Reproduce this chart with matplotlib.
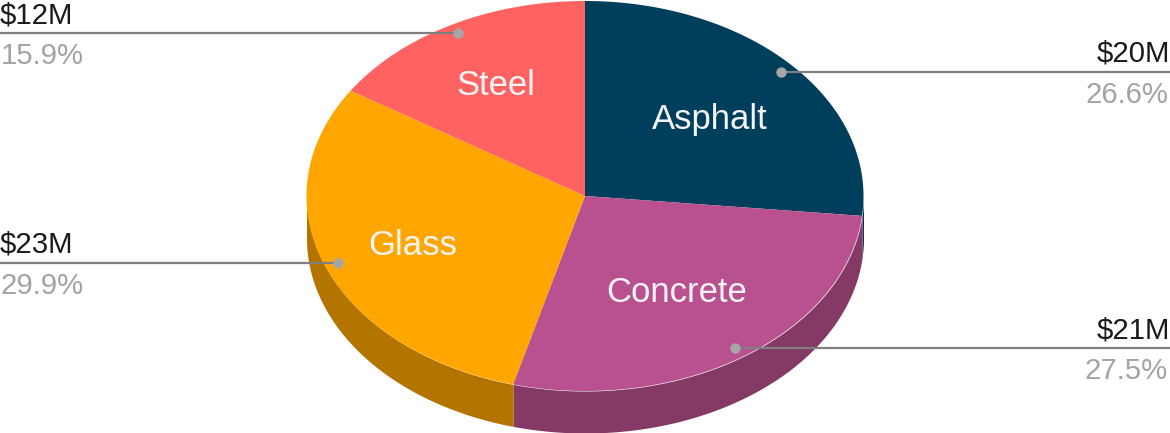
import numpy as np
import matplotlib
matplotlib.use("Agg")
import matplotlib.pyplot as plt

# chart data, clockwise from 12 o'clock
categories = ["Asphalt", "Concrete", "Glass", "Steel"]
amounts = ["$20M", "$21M", "$23M", "$12M"]
shares = [26.6, 27.5, 29.9, 15.9]

colors = ["#003f5c", "#b95190", "#ffa600", "#ff6361"]
side_colors = ["#003a55", "#853a66", "#b37400", "#b34645"]
label_radius = [0.607, 0.585, 0.66, 0.66]

# the pie is an ellipse, so work in units of its radii
W, H = 1170, 433
cx, cy = 585, 196
rx, ry = 278.5, 195
depth = 42 / ry

plt.rcParams["font.family"] = ["Liberation Sans", "DejaVu Sans"]

fig = plt.figure(figsize=(W / 100, H / 100), dpi=100)
ax = fig.add_axes([0, 0, 1, 1])
ax.set_xlim(-cx / rx, (W - cx) / rx)
ax.set_ylim((cy - H) / ry, cy / ry)
ax.axis("off")

total = sum(shares)
start = 0.0
for i, share in enumerate(shares):
    end = start + share / total * 360
    # angle from the top, going clockwise
    a = np.radians(np.linspace(start, end, 600))
    px = np.sin(a)
    py = np.cos(a)

    # top face of the slice
    ax.fill(np.r_[0, px], np.r_[0, py], color=colors[i], lw=0, zorder=3)

    # side wall, only where the rim faces down
    front = py <= 0
    if front.any():
        ax.fill_between(px[front], py[front] - depth, py[front],
                        color=side_colors[i], lw=0, zorder=2)

    mid = np.radians((start + end) / 2)
    dx, dy = np.sin(mid), np.cos(mid)

    # name inside the slice
    ax.annotate(categories[i], (dx * label_radius[i], dy * label_radius[i]),
                xytext=(-0.5, -2), textcoords="offset points",
                color="#f4f4f4", fontsize=24.9, ha="center", va="center",
                zorder=5)

    # leader line out to the nearest edge, with amount and percent round it
    ex, ey = dx * 0.95, dy * 0.95
    right = dx > 0
    edge = (W - cx) / rx if right else -cx / rx
    ax.plot([ex, edge], [ey, ey], color="#7f7f7f", lw=1.6, zorder=4,
            solid_capstyle="butt")
    ax.plot([ex], [ey], "o", color="#a6a6a6", ms=7.5, mew=0, zorder=6)
    ha = "right" if right else "left"
    pct_x = -1.5 if right else 0.5
    ax.annotate(amounts[i], (edge, ey), xytext=(0, 7.2), textcoords="offset points",
                color="#1a1a1a", fontsize=21.2, ha=ha, va="baseline", zorder=5)
    ax.annotate("%.1f%%" % share, (edge, ey), xytext=(pct_x, -22.3),
                textcoords="offset points", color="#a3a3a3", fontsize=21.2,
                ha=ha, va="baseline", zorder=5)

    start = end

fig.savefig("out.png", dpi=100)
